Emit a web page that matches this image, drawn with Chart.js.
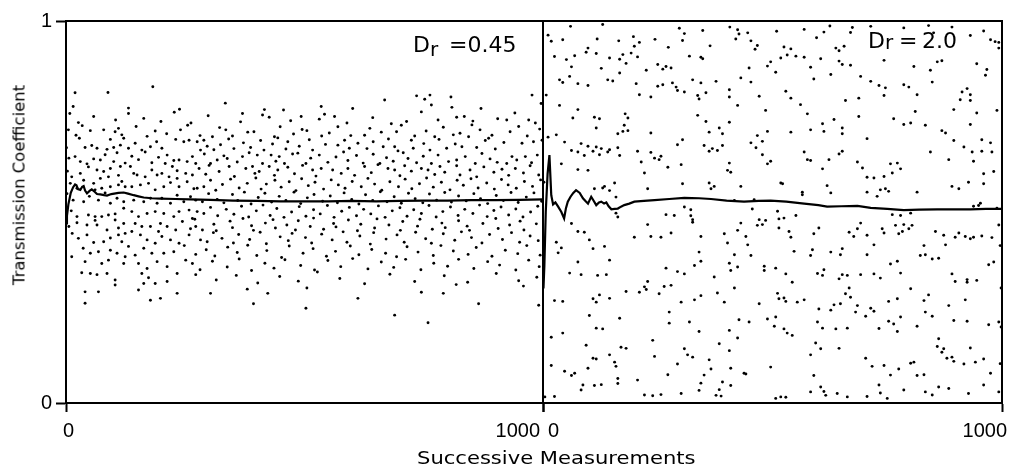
<!DOCTYPE html>
<html>
<head>
<meta charset="utf-8">
<script src="https://cdn.jsdelivr.net/npm/chart.js@4/dist/chart.umd.min.js"></script>
<style>
  html, body { margin: 0; padding: 0; background: #fff; }
  body { width: 1009px; height: 468px; position: relative; overflow: hidden; }
  .box { position: absolute; top: 0; height: 468px; }
  .txt { position: absolute; color: #000; white-space: nowrap; }
  #ytitle { left: 19px; top: 185px; font: 16.5px "DejaVu Sans"; transform: translate(-50%, -50%) rotate(-90deg); }
  #xtitle { left: 417px; top: 448px; font: 17px "DejaVu Sans"; transform: scaleX(1.24); transform-origin: 0 0; }
  .dr { font: 22px "DejaVu Sans"; line-height: 26px; }
  .dr .sub { font-size: 20px; position: relative; }
  .dr .eq { position: absolute; top: 0; }
</style>
</head>
<body>
<div class="box" style="left:0;width:560px"><canvas id="cL"></canvas></div>
<div class="box" style="left:520px;width:489px"><canvas id="cR"></canvas></div>
<div class="txt" id="ytitle">Transmission Coefficient</div>
<div class="txt" id="xtitle">Successive Measurements</div>
<div class="txt dr" style="left:413px;top:32px">D<span class="sub" style="top:4px">r</span><span class="eq" style="left:36px">=0.45</span></div>
<div class="txt dr" style="left:868px;top:28px">D<span class="sub" style="top:1px">r</span><span class="eq" style="left:31px">=</span><span class="eq" style="left:54px">2.0</span></div>
<script>
// ---- data ----
const xTickValues = [0, 1000];
const xTickLabels = ['0', '1000'];
const yTickValues = [0, 1];
const yTickLabels = ['0', '1'];

const leftPairs = [
[88,.813],[182,.828],[735,.804],[763,.806],[807,.801],[977,.806],[19,.812],
[15,.776],[334,.785],[535,.776],[601,.771],[668,.793],[752,.795],[766,.780],[416,.768],[456,.767],[870,.771],[131,.772],[996,.784],[238,.769],[809,.774],
[8,.758],[26,.734],[58,.750],[104,.741],[131,.758],[163,.745],[199,.737],[227,.761],[262,.733],[298,.752],[366,.736],[370,.758],[412,.754],[426,.748],[471,.739],[493,.750],[531,.743],[542,.756],[563,.750],[589,.733],[643,.747],[682,.731],[714,.737],[745,.762],[780,.741],[819,.748],[835,.750],[853,.738],[905,.744],[924,.741],[941,.759],[970,.741],[984,.733],
[5,.715],[21,.701],[34,.726],[51,.713],[79,.715],[103,.710],[110,.719],[117,.702],[147,.724],[170,.698],[187,.712],[211,.705],[240,.715],[255,.727],[281,.700],[307,.697],[322,.721],[335,.715],[349,.699],[381,.709],[394,.710],[437,.697],[449,.723],[477,.704],[495,.716],[505,.713],[536,.699],[552,.707],[570,.723],[597,.700],[626,.701],[637,.719],[661,.709],[693,.710],[703,.727],[731,.699],[755,.712],[773,.697],[791,.722],[812,.702],[826,.706],[844,.697],[851,.728],[868,.715],[893,.701],[931,.710],[949,.724],[967,.699],[993,.717],
[1,.668],[28,.693],[40,.669],[54,.674],[65,.667],[86,.664],[93,.690],[100,.669],[114,.675],[121,.693],[131,.667],[145,.680],[159,.662],[177,.671],[190,.684],[201,.667],[230,.690],[247,.684],[258,.688],[275,.684],[282,.662],[289,.688],[296,.672],[310,.663],[324,.676],[341,.691],[352,.666],[372,.681],[387,.669],[408,.687],[415,.662],[433,.678],[444,.694],[461,.665],[465,.684],[489,.672],[510,.689],[517,.662],[544,.677],[570,.675],[584,.688],[594,.667],[612,.680],[631,.666],[644,.684],[665,.671],[676,.691],[689,.671],[696,.660],[724,.688],[728,.667],[750,.679],[763,.662],[782,.690],[798,.667],[816,.678],[830,.671],[861,.669],[879,.687],[886,.693],[900,.665],[918,.682],[956,.680],[980,.684],[998,.688],
[6,.641],[19,.645],[30,.632],[44,.626],[58,.639],[72,.636],[82,.650],[100,.632],[107,.655],[124,.628],[138,.646],[152,.637],[166,.657],[180,.629],[194,.643],[208,.627],[212,.649],[226,.635],[237,.636],[254,.632],[265,.645],[272,.627],[290,.652],[303,.627],[317,.636],[331,.647],[338,.640],[359,.631],[370,.645],[384,.655],[401,.649],[412,.627],[430,.649],[440,.633],[447,.645],[458,.627],[475,.652],[486,.654],[503,.627],[513,.641],[531,.649],[549,.630],[566,.644],[582,.657],[591,.635],[609,.648],[623,.628],[644,.651],[658,.627],[672,.642],[686,.633],[707,.655],[717,.640],[735,.629],[749,.646],[766,.627],[780,.649],[802,.632],[819,.636],[837,.645],[858,.627],[872,.653],[889,.639],[904,.630],[924,.627],[935,.645],[945,.636],[963,.645],[976,.629],[988,.649],
[3,.607],[12,.592],[30,.601],[47,.618],[65,.610],[79,.606],[93,.614],[110,.596],[114,.619],[135,.619],[142,.601],[149,.597],[166,.592],[180,.610],[191,.597],[201,.601],[216,.592],[223,.619],[233,.608],[251,.601],[265,.597],[279,.614],[293,.599],[300,.622],[321,.606],[342,.619],[353,.593],[377,.614],[391,.619],[396,.601],[405,.606],[426,.619],[437,.596],[444,.610],[465,.617],[479,.600],[496,.622],[517,.610],[524,.594],[535,.614],[559,.610],[577,.601],[591,.614],[605,.596],[626,.619],[640,.603],[654,.624],[675,.614],[689,.610],[700,.595],[710,.621],[724,.607],[745,.614],[759,.610],[773,.598],[784,.619],[794,.604],[819,.621],[826,.597],[847,.610],[861,.592],[876,.618],[897,.604],[914,.612],[928,.596],[942,.614],[959,.602],[973,.621],[991,.597],
[9,.575],[23,.562],[37,.583],[58,.575],[61,.558],[72,.588],[75,.562],[89,.592],[93,.566],[110,.571],[117,.580],[124,.566],[138,.566],[156,.571],[173,.575],[187,.558],[205,.566],[219,.577],[233,.588],[237,.566],[254,.579],[268,.561],[275,.562],[289,.566],[303,.583],[314,.557],[328,.572],[345,.586],[363,.563],[380,.575],[398,.589],[409,.560],[420,.573],[438,.583],[451,.565],[468,.579],[482,.556],[494,.587],[508,.569],[522,.578],[540,.560],[556,.584],[571,.571],[585,.562],[600,.580],[619,.566],[633,.588],[647,.573],[662,.557],[679,.579],[697,.566],[711,.586],[725,.561],[741,.574],[756,.589],[770,.565],[787,.578],[805,.558],[820,.583],[833,.570],[849,.587],[864,.563],[882,.576],[898,.560],[913,.585],[927,.571],[944,.562],[961,.580],[978,.567],[995,.584],
[2,.548],[15,.531],[37,.527],[49,.541],[68,.531],[82,.550],[93,.523],[107,.536],[121,.527],[142,.531],[163,.527],[177,.536],[191,.523],[201,.536],[219,.523],[233,.544],[247,.527],[261,.540],[272,.531],[286,.527],[299,.548],[317,.533],[331,.524],[349,.546],[360,.530],[374,.552],[388,.521],[403,.538],[417,.549],[431,.526],[447,.541],[461,.530],[478,.552],[492,.522],[506,.537],[520,.546],[538,.528],[554,.542],[569,.524],[583,.550],[599,.533],[614,.521],[628,.545],[643,.530],[659,.553],[673,.527],[688,.540],[703,.523],[718,.549],[732,.535],[748,.524],[762,.547],[777,.531],[794,.551],[808,.526],[823,.542],[839,.529],[855,.548],[869,.535],[884,.522],[902,.543],[917,.530],[933,.551],[948,.525],[965,.539],[981,.550],[997,.528],
[11,.503],[23,.488],[47,.492],[61,.488],[75,.488],[89,.492],[103,.495],[121,.510],[138,.501],[152,.488],[170,.496],[187,.501],[205,.496],[226,.488],[237,.501],[258,.505],[265,.483],[275,.501],[289,.496],[303,.512],[318,.490],[336,.507],[352,.494],[368,.515],[383,.487],[399,.503],[413,.518],[428,.491],[442,.509],[457,.486],[473,.500],[489,.514],[503,.489],[519,.506],[533,.495],[548,.517],[562,.486],[578,.502],[594,.512],[609,.490],[624,.507],[639,.495],[655,.516],[669,.486],[684,.503],[700,.511],[715,.489],[729,.506],[745,.496],[761,.517],[776,.487],[790,.501],[806,.513],[822,.491],[836,.507],[853,.496],[867,.518],[883,.488],[897,.504],[912,.513],[928,.492],[943,.508],[958,.487],[974,.500],[989,.515],
[6,.462],[23,.472],[44,.466],[61,.478],[65,.466],[86,.453],[103,.479],[110,.458],[121,.470],[145,.470],[159,.462],[177,.462],[194,.449],[198,.470],[212,.462],[230,.453],[244,.475],[261,.456],[270,.481],[272,.462],[286,.453],[310,.468],[315,.451],[344,.476],[349,.459],[371,.483],[389,.464],[393,.452],[418,.471],[434,.480],[439,.458],[463,.466],[481,.453],[487,.477],[512,.462],[519,.484],[540,.455],[561,.470],[566,.461],[592,.479],[611,.451],[618,.468],[647,.458],[652,.482],[677,.466],[701,.452],[706,.475],[737,.463],[742,.481],[768,.455],[788,.471],[795,.459],[823,.477],[841,.463],[846,.452],[874,.470],[901,.483],[906,.457],[930,.466],[952,.476],[960,.453],[986,.469],
[13,.444],[26,.431],[44,.440],[58,.420],[79,.422],[93,.432],[110,.440],[117,.422],[124,.444],[138,.449],[156,.440],[170,.427],[187,.418],[201,.436],[219,.427],[237,.418],[258,.440],[282,.427],[296,.422],[309,.446],[327,.431],[351,.419],[362,.441],[385,.428],[407,.447],[420,.417],[449,.435],[466,.425],[474,.444],[502,.433],[515,.419],[536,.442],[558,.427],[581,.448],[589,.421],[616,.437],[638,.416],[645,.446],[671,.429],[694,.440],[709,.421],[733,.447],[754,.430],[766,.418],[791,.443],[815,.426],[829,.448],[850,.433],[872,.419],[888,.441],[915,.428],[934,.446],[951,.421],[973,.437],[990,.425],
[12,.383],[36,.405],[51,.392],[68,.396],[93,.400],[107,.392],[124,.383],[131,.410],[145,.387],[163,.405],[180,.392],[205,.392],[226,.396],[248,.412],[272,.389],[294,.401],[312,.385],[339,.408],[359,.394],[381,.413],[400,.386],[421,.399],[452,.381],[468,.411],[497,.392],[518,.404],[546,.384],[565,.397],[596,.411],[614,.388],[641,.402],[670,.392],[693,.383],[715,.409],[738,.395],[770,.386],[786,.412],[812,.398],[843,.389],[860,.407],[893,.384],[921,.400],[947,.391],[966,.412],[994,.387],
[40,.370],[75,.365],[89,.374],[121,.365],[152,.365],[170,.352],[191,.370],[212,.357],[251,.374],[265,.365],[281,.349],[307,.371],[338,.356],[363,.377],[389,.347],[417,.366],[436,.353],[459,.375],[492,.360],[521,.348],[549,.373],[576,.357],[601,.378],[633,.351],[661,.369],[687,.355],[712,.376],[744,.349],[771,.366],[800,.358],[823,.376],[855,.352],[884,.370],[909,.361],[943,.348],[970,.374],[992,.357],
[33,.341],[51,.339],[65,.336],[86,.339],[103,.322],[159,.339],[173,.328],[212,.318],[233,.339],[272,.336],[315,.322],[357,.334],[402,.314],[448,.331],[487,.319],[527,.343],[574,.326],[626,.312],[679,.337],[731,.318],[793,.333],[842,.316],[902,.339],[949,.320],[987,.329],
[40,.291],[68,.291],[103,.309],[152,.296],[163,.313],[187,.313],[233,.287],[303,.287],[380,.298],[423,.287],[505,.301],[612,.274],[745,.290],[791,.287],[818,.310],[959,.306],
[40,.261],[177,.269],[198,.274],[393,.260],[503,.248],[689,.230],[759,.210],[865,.260],[991,.256]
];

const rightPairs = [
[60,.986],[43,.951],[18,.947],[11,.963],[98,.929],[118,.953],[130,.991],[165,.948],[197,.959],[210,.944],[199,.934],[244,.952],[273,.931],[297,.981],[308,.967],[304,.949],[348,.975],[364,.935],[407,.984],[424,.977],[427,.966],[420,.953],[446,.969],[453,.948],[467,.936],[462,.926],[509,.973],[525,.932],[540,.927],[569,.978],[596,.956],[612,.971],[625,.987],[638,.929],[645,.922],[656,.934],[670,.970],[674,.983],[714,.986],[786,.982],[840,.988],[851,.969],[891,.984],[931,.962],[960,.974],[975,.951],[985,.946],[993,.944],
[25,.907],[51,.899],[62,.880],[69,.909],[94,.918],[116,.915],[127,.876],[145,.903],[167,.900],[174,.912],[181,.889],[192,.916],[206,.906],[225,.871],[250,.886],[261,.874],[268,.881],[279,.877],[319,.908],[344,.905],[348,.901],[431,.851],[449,.877],[489,.882],[496,.893],[507,.866],[518,.903],[532,.911],[551,.908],[569,.905],[583,.879],[590,.848],[605,.901],[627,.860],[645,.895],[652,.886],[670,.884],[692,.855],[743,.897],[808,.881],[844,.871],[859,.893],[869,.896],[945,.888],[964,.858],[967,.873],[993,.929],
[36,.846],[43,.839],[58,.855],[76,.836],[98,.831],[141,.846],[152,.843],[167,.864],[203,.836],[210,.807],[235,.801],[250,.829],[261,.833],[282,.838],[290,.827],[293,.818],[308,.814],[326,.846],[344,.838],[337,.805],[340,.796],[355,.812],[377,.842],[406,.820],[406,.801],[424,.779],[453,.840],[471,.803],[485,.766],[529,.816],[540,.798],[561,.781],[576,.757],[659,.792],[688,.798],[714,.842],[732,.831],[746,.825],[743,.805],[786,.833],[797,.827],[815,.807],[848,.840],[895,.768],[913,.814],[924,.823],[931,.807],[931,.792],[909,.794],[945,.759],[989,.766],[7,.806],[36,.779],[76,.768],
[65,.746],[112,.748],[123,.744],[116,.720],[163,.705],[179,.757],[185,.746],[177,.727],[185,.713],[174,.711],[235,.707],[293,.676],[304,.689],[337,.753],[355,.737],[362,.709],[384,.720],[391,.705],[406,.735],[391,.674],[453,.681],[467,.700],[478,.685],[489,.711],[540,.709],[583,.715],[609,.731],[612,.711],[634,.742],[652,.720],[652,.705],[706,.692],[688,.750],[764,.744],[786,.729],[801,.733],[833,.727],[811,.763],[869,.713],[877,.707],[895,.687],[931,.729],[956,.689],[975,.681],[29,.702],[11,.696],[47,.683],[83,.679],[98,.672],[116,.670],[127,.666],[145,.663],
[62,.661],[76,.657],[90,.648],[109,.659],[123,.650],[141,.657],[163,.668],[167,.648],[206,.659],[214,.631],[221,.602],[235,.656],[243,.641],[253,.637],[257,.646],[272,.617],[301,.624],[351,.674],[362,.659],[369,.666],[380,.661],[406,.628],[402,.609],[409,.604],[464,.668],[478,.650],[489,.626],[496,.633],[518,.576],[569,.657],[576,.637],[583,.635],[609,.613],[623,.637],[645,.652],[652,.659],[685,.631],[696,.615],[706,.591],[721,.589],[743,.593],[757,.626],[772,.628],[779,.613],[761,.602],[844,.657],[884,.637],[917,.670],[935,.657],[938,.633],[956,.659],[978,.657],[960,.600],[982,.606],[40,.626],[76,.611],[98,.609],[2,.578],
[112,.561],[130,.563],[134,.567],[145,.556],[156,.576],[159,.539],[228,.561],[304,.574],[362,.576],[366,.561],[373,.567],[417,.530],[431,.567],[460,.532],[522,.574],[565,.552],[565,.545],[619,.569],[627,.550],[706,.552],[728,.541],[735,.558],[746,.561],[753,.554],[815,.552],[891,.567],[906,.561],[938,.515],[949,.517],[953,.523],[927,.578],[960,.574],[989,.510],[159,.497],[163,.487],[268,.493],[286,.491],[308,.513],[322,.506],[322,.490],[326,.480],[456,.508],[511,.502],[514,.482],[525,.484],[551,.491],[761,.493],[779,.491],[801,.497],
[62,.470],[76,.449],[90,.447],[101,.427],[109,.404],[134,.410],[29,.421],[33,.393],[40,.406],[228,.467],[199,.434],[235,.436],[257,.434],[279,.445],[344,.436],[326,.473],[395,.443],[402,.419],[424,.452],[431,.471],[442,.436],[446,.414],[467,.465],[471,.480],[478,.467],[485,.478],[514,.458],[536,.449],[540,.434],[590,.443],[601,.458],[667,.447],[677,.436],[685,.456],[692,.471],[706,.439],[721,.414],[739,.456],[743,.445],[768,.465],[775,.443],[783,.449],[786,.467],[797,.456],[804,.465],[830,.412],[855,.449],[873,.439],[877,.414],[898,.434],[906,.445],[920,.436],[931,.430],[938,.434],[956,.437],[978,.433],[993,.466],[996,.412],[652,.404],
[76,.369],[58,.340],[83,.336],[119,.334],[138,.336],[145,.374],[228,.318],[268,.353],[293,.344],[308,.338],[330,.360],[344,.371],[340,.395],[373,.330],[406,.366],[409,.347],[417,.388],[424,.356],[453,.386],[482,.358],[482,.347],[507,.353],[529,.338],[543,.316],[547,.397],[587,.401],[583,.386],[598,.339],[609,.334],[612,.349],[627,.395],[648,.388],[652,.336],[645,.325],[663,.334],[692,.336],[706,.388],[721,.338],[735,.327],[757,.364],[772,.371],[779,.340],[822,.386],[833,.388],[848,.377],[862,.379],[891,.338],[898,.318],[924,.323],[945,.321],[971,.362],[982,.369],
[25,.268],[43,.266],[109,.273],[116,.264],[123,.283],[145,.274],[181,.292],[210,.290],[225,.297],[221,.304],[253,.286],[264,.305],[279,.308],[301,.264],[330,.270],[344,.281],[380,.288],[395,.264],[417,.301],[471,.260],[511,.287],[514,.273],[525,.275],[529,.266],[554,.264],[569,.270],[601,.246],[627,.243],[634,.257],[648,.260],[659,.286],[667,.301],[670,.277],[685,.255],[714,.248],[753,.266],[772,.273],[801,.299],[830,.268],[840,.283],[884,.255],[920,.270],[998,.301],[924,.316],
[18,.172],[43,.183],[94,.151],[101,.229],[116,.196],[130,.194],[167,.222],[239,.164],[275,.238],[275,.209],[319,.212],[340,.187],[384,.155],[406,.190],[424,.170],[427,.218],[449,.212],[489,.220],[504,.201],[507,.225],[525,.194],[532,.183],[543,.177],[594,.157],[598,.212],[609,.196],[638,.194],[645,.143],[663,.196],[681,.238],[703,.227],[721,.240],[732,.195],[753,.214],[764,.207],[772,.187],[779,.225],[815,.201],[833,.238],[848,.227],[862,.168],[873,.142],[895,.216],[924,.214],[931,.144],[971,.205],[993,.212],[998,.199],
[18,.098],[47,.083],[62,.072],[69,.078],[98,.091],[109,.117],[116,.115],[145,.126],[156,.107],[159,.096],[170,.146],[181,.143],[243,.122],[272,.074],[293,.102],[308,.142],[315,.126],[326,.120],[351,.073],[362,.113],[366,.089],[406,.137],[409,.091],[438,.078],[442,.076],[496,.094],[583,.126],[605,.142],[703,.117],[717,.096],[743,.098],[757,.073],[775,.089],[801,.104],[808,.107],[815,.072],[830,.074],[859,.148],[869,.133],[880,.117],[891,.120],[895,.109],[917,.102],[942,.107],[960,.115],[975,.078],[996,.103],[590,.072],
[4,.016],[25,.017],[87,.047],[83,.034],[112,.046],[127,.048],[163,.051],[163,.064],[206,.060],[221,.021],[239,.019],[257,.022],[301,.025],[340,.033],[344,.052],[377,.020],[384,.035],[391,.055],[388,.018],[409,.046],[507,.012],[518,.016],[529,.015],[583,.029],[605,.042],[612,.030],[616,.020],[641,.025],[663,.016],[706,.017],[732,.047],[735,.026],[750,.012],[786,.034],[833,.029],[848,.021],[862,.042],[884,.038],[927,.025],[960,.047],[993,.029]
];

// running mean, D_r = 0.45
const leftMeanX = [0,2,5,10,15,19,22,25,30,34,37,40,44,50,54,60,65,72,80,86,95,110,121,130,142,152,163,180,198,230,260,303,350,400,450,493,550,600,650,700,750,800,850,900,950,1000];
const leftMeanY = [0.47,0.49,0.52,0.55,0.565,0.572,0.570,0.560,0.558,0.566,0.568,0.556,0.549,0.556,0.559,0.553,0.547,0.546,0.544,0.543,0.547,0.550,0.551,0.548,0.544,0.541,0.538,0.536,0.535,0.534,0.533,0.532,0.530,0.529,0.528,0.528,0.528,0.529,0.528,0.529,0.530,0.530,0.531,0.531,0.532,0.533];

// running mean, D_r = 2.0
const rightMeanX = [1,3,6,10,14,18,22,27,33,40,46,50,54,60,66,72,80,87,93,98,105,110,116,122,127,133,138,143,149,156,163,170,177,188,199,220,243,275,308,340,366,400,438,470,496,530,569,600,619,650,685,714,750,786,820,859,900,931,965,1000];
const rightMeanY = [0.30,0.36,0.50,0.60,0.649,0.544,0.520,0.525,0.514,0.500,0.483,0.510,0.527,0.540,0.550,0.557,0.550,0.536,0.528,0.522,0.540,0.530,0.518,0.525,0.527,0.522,0.525,0.515,0.507,0.508,0.509,0.514,0.518,0.522,0.527,0.529,0.531,0.534,0.537,0.536,0.534,0.530,0.527,0.529,0.530,0.527,0.522,0.518,0.514,0.515,0.516,0.511,0.508,0.505,0.506,0.507,0.507,0.507,0.508,0.508];

// ---- charts ----
const INK = '#000';
const tickFont = { family: 'Liberation Sans', size: 20 };

function pts(xs, ys) { return ys.map((y, i) => ({ x: xs[i], y })); }
function pairPts(pairs) { return pairs.map(p => ({ x: p[0], y: p[1] })); }

function frameAxis(position) {
  const horiz = position === 'top';
  return {
    type: 'linear', position, min: 0, max: horiz ? 1000 : 1,
    display: true,
    grid: { display: false },
    border: { display: true, color: INK, width: 2 },
    ticks: { display: false },
    afterFit: s => { if (horiz) s.height = 0; else s.width = 0; }
  };
}

function makeChart(id, scatterData, meanX, meanY, opts) {
  const scales = {
    x: {
      type: 'linear', position: 'bottom', min: 0, max: 1000,
      afterBuildTicks: s => { s.ticks = xTickValues.map(v => ({ value: v })); },
      afterFit: s => { s.height = 65; },
      grid: { display: true, drawOnChartArea: false, drawTicks: true, tickLength: 9, tickWidth: 2, tickColor: INK },
      border: { display: true, color: INK, width: 2 },
      ticks: { align: 'inner', autoSkip: false, maxRotation: 0, color: INK, font: tickFont, padding: 7,
               labelOffset: opts.labelOffset, callback: (v, i) => xTickLabels[i] }
    },
    xTop: frameAxis('top'),
    yRight: frameAxis('right')
  };
  if (opts.yTicks) {
    scales.y = {
      type: 'linear', position: 'left', min: 0, max: 1,
      afterBuildTicks: s => { s.ticks = yTickValues.map(v => ({ value: v })); },
      afterFit: s => { s.width = 66; },
      grid: { display: true, drawOnChartArea: false, drawTicks: true, tickLength: 10, tickWidth: 2, tickColor: INK },
      border: { display: true, color: INK, width: 2 },
      ticks: { color: INK, font: tickFont, padding: 4, autoSkip: false, callback: (v, i) => yTickLabels[i] }
    };
  } else {
    scales.y = frameAxis('left');
  }
  return new Chart(document.getElementById(id), {
    type: 'scatter',
    data: {
      datasets: [
        { data: scatterData, pointRadius: 1.45, pointHoverRadius: 0, pointBackgroundColor: INK,
          pointBorderWidth: 0, showLine: false },
        { type: 'line', data: pts(meanX, meanY), borderColor: INK, borderWidth: 2.2, pointRadius: 0,
          fill: false, tension: 0 }
      ]
    },
    options: {
      responsive: true, maintainAspectRatio: false, animation: false, devicePixelRatio: 1,
      layout: { padding: opts.padding },
      plugins: { legend: { display: false }, tooltip: { enabled: false }, title: { display: false } },
      events: [],
      scales
    }
  });
}

makeChart('cL', pairPts(leftPairs), leftMeanX, leftMeanY,
  { yTicks: true, padding: { top: 21, right: 17, bottom: 0, left: 0 }, labelOffset: -3 });
makeChart('cR', pairPts(rightPairs), rightMeanX, rightMeanY,
  { yTicks: false, padding: { top: 21, right: 6, bottom: 0, left: 23 }, labelOffset: 5 });
</script>
</body>
</html>
